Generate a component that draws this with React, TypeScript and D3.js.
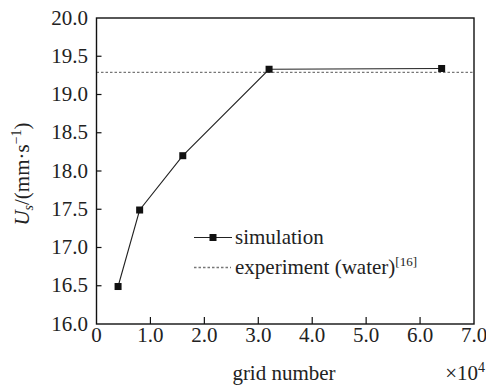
import React from "react";
import * as d3 from "d3";

// Grid-independence study: settling velocity vs. number of grid cells
const gridNumber = [0.4, 0.8, 1.6, 3.2, 6.4]; // ×10^4
const velocity = [16.49, 17.49, 18.2, 19.33, 19.34]; // mm/s
const experimentValue = 19.29; // mm/s (water)
const xTicks = [0, 1, 2, 3, 4, 5, 6, 7];
const yTicks = [16, 16.5, 17, 17.5, 18, 18.5, 19, 19.5, 20];

const W = 494;
const H = 385;
const m = { left: 96.5, right: 474, top: 18, bottom: 324 };
const FONT = "Liberation Serif";

export default function App() {
  const x = d3.scaleLinear().domain([0, 7]).range([m.left, m.right]);
  const y = d3.scaleLinear().domain([16, 20]).range([m.bottom, m.top]);
  const line = d3
    .line<number>()
    .x((_, i) => x(gridNumber[i]))
    .y((d) => y(d));

  const legX = 194;
  const legY1 = 237.5;
  const legY2 = 267.5;

  return (
    <svg width={W} height={H} style={{ display: "block", margin: "-8px 0 0 -8px" }}>
      <g fontFamily={FONT} fontSize={21} fill="#222">
        {/* experimental reference */}
        <line
          x1={m.left}
          x2={m.right}
          y1={y(experimentValue)}
          y2={y(experimentValue)}
          stroke="#777"
          strokeWidth={1.3}
          strokeDasharray="2.5,2"
        />
        {/* simulation */}
        <path d={line(velocity) ?? ""} fill="none" stroke="#222" strokeWidth={1.1} />
        {velocity.map((v, i) => (
          <rect
            key={i}
            x={x(gridNumber[i]) - 3.5}
            y={y(v) - 3.5}
            width={7}
            height={7}
            fill="#111"
          />
        ))}

        {/* frame */}
        <rect
          x={m.left}
          y={m.top}
          width={m.right - m.left}
          height={m.bottom - m.top}
          fill="none"
          stroke="#111"
          strokeWidth={1.4}
        />

        {/* x axis ticks and labels */}
        {xTicks.map((t) => (
          <g key={t}>
            {t > 0 && t < 7 && (
              <line x1={x(t)} x2={x(t)} y1={m.bottom} y2={m.bottom - 7} stroke="#111" strokeWidth={1.2} />
            )}
            <text x={x(t)} y={342} textAnchor="middle" fontFamily={FONT}>
              {t === 0 ? "0" : t.toFixed(1)}
            </text>
          </g>
        ))}

        {/* y axis ticks and labels */}
        {yTicks.map((t) => (
          <g key={t}>
            {t > 16 && t < 20 && (
              <line x1={m.left} x2={m.left + 5} y1={y(t)} y2={y(t)} stroke="#111" strokeWidth={1.2} />
            )}
            <text x={88} y={y(t) + 6.5} textAnchor="end" fontFamily={FONT}>
              {t.toFixed(1)}
            </text>
          </g>
        ))}

        {/* axis titles */}
        <text x={284} y={380} textAnchor="middle" fontFamily={FONT}>
          grid number
        </text>
        <text x={485} y={380} textAnchor="end" fontFamily={FONT}>
          ×10
          <tspan fontSize={14} dy={-8}>4</tspan>
        </text>
        <text transform="translate(29,174) rotate(-90)" textAnchor="middle" fontFamily={FONT}>
          <tspan fontStyle="italic">U</tspan>
          <tspan fontStyle="italic" fontSize={14} dy={4}>s</tspan>
          <tspan dy={-4}>/(mm·s</tspan>
          <tspan fontSize={14} dy={-8}>−1</tspan>
          <tspan dy={8}>)</tspan>
        </text>

        {/* legend */}
        <line x1={legX} x2={legX + 38} y1={legY1} y2={legY1} stroke="#222" strokeWidth={1.1} />
        <rect x={legX + 19 - 3.5} y={legY1 - 3.5} width={7} height={7} fill="#111" />
        <text x={235} y={244} fontFamily={FONT}>simulation</text>
        <line
          x1={legX}
          x2={legX + 37}
          y1={legY2}
          y2={legY2}
          stroke="#777"
          strokeWidth={1.3}
          strokeDasharray="2.5,2"
        />
        <text x={235} y={274} fontFamily={FONT}>
          experiment (water)
          <tspan fontSize={13} dy={-8}>[16]</tspan>
        </text>
      </g>
    </svg>
  );
}
